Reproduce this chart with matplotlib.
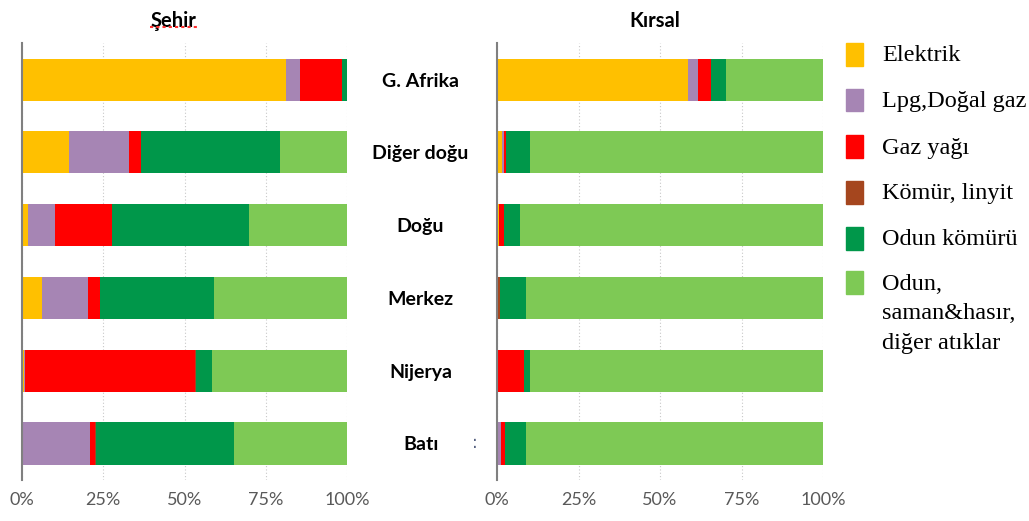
import matplotlib.pyplot as plt
import numpy as np
from matplotlib.patches import Rectangle
from matplotlib.lines import Line2D

regions = ["G. Afrika", "Diğer doğu", "Doğu", "Merkez", "Nijerya", "Batı"]
fuels = ["Elektrik", "Lpg,Doğal gaz", "Gaz yağı", "Kömür, linyit",
         "Odun kömürü", "Odun,\nsaman&hasır,\ndiğer atıklar"]
colors = ["#FFC000", "#A685B4", "#FF0000", "#A5461E", "#00974A", "#7EC955"]

# Şehir (urban) shares, %
elektrik_s = [81.2, 14.5, 1.8, 6.2, 0.5, 0.4]
lpg_s = [4.3, 18.4, 8.4, 14.1, 0.5, 20.6]
gaz_s = [13.0, 3.7, 17.5, 3.7, 52.3, 1.3]
komur_s = [0.0, 0.0, 0.0, 0.0, 0.3, 0.4]
odun_komuru_s = [1.5, 42.8, 42.1, 35.1, 4.7, 42.4]
odun_s = [0.0, 20.6, 30.2, 40.9, 41.7, 34.9]

# Kırsal (rural) shares, %
elektrik_k = [58.7, 1.5, 0.5, 0.3, 0.0, 0.0]
lpg_k = [2.8, 0.5, 0.0, 0.0, 0.2, 1.3]
gaz_k = [4.0, 0.8, 1.5, 0.0, 8.0, 1.3]
komur_k = [0.0, 0.0, 0.0, 0.6, 0.0, 0.0]
odun_komuru_k = [4.6, 7.4, 4.9, 8.1, 1.8, 6.2]
odun_k = [29.9, 89.8, 93.1, 91.0, 90.0, 91.2]

sehir = [elektrik_s, lpg_s, gaz_s, komur_s, odun_komuru_s, odun_s]
kirsal = [elektrik_k, lpg_k, gaz_k, komur_k, odun_komuru_k, odun_k]

fig = plt.figure(figsize=(10.29, 5.21), dpi=100)
ax1 = fig.add_axes([0.0214, 0.079, 0.316, 0.838])
ax2 = fig.add_axes([0.483, 0.079, 0.317, 0.838])

y = np.arange(len(regions))


def draw(ax, data, title, tx):
    left = np.zeros(len(regions))
    for vals, c in zip(data, colors):
        ax.barh(y, vals, left=left, height=0.58, color=c, zorder=2)
        left += np.array(vals)
    ax.set_xlim(0, 100)
    ax.set_ylim(len(regions) - 0.5, -0.5)
    ax.set_xticks([0, 25, 50, 75, 100])
    ax.set_xticklabels(["0%", "25%", "50%", "75%", "100%"], family="Lato",
                       fontsize=13, color="#595959")
    ax.tick_params(axis="x", length=0, pad=9)
    ax.grid(axis="x", color="#C8C8C8", linestyle=(0, (1, 2)), linewidth=0.8, zorder=0)
    for s in ["top", "right", "bottom"]:
        ax.spines[s].set_visible(False)
    ax.spines["left"].set_color("#808080")
    ax.spines["left"].set_linewidth(1.5)
    ax.set_title(title, family="Lato", fontweight="bold", fontsize=14.5, pad=12, x=tx)


draw(ax1, sehir, "Şehir", 0.465)
draw(ax2, kirsal, "Kırsal", 0.485)

# spell-check squiggle under the left title
fig.add_artist(Line2D([0.146, 0.192], [0.948, 0.948], color="#FF3030",
                      linestyle=(0, (1.5, 1.5)), linewidth=1.5))

ax1.set_yticks([])
ax2.set_yticks(y)
ax2.set_yticklabels(regions, family="Lato", fontweight="bold", fontsize=14, ha="center")
ax2.tick_params(axis="y", length=0, pad=55)
ax2.text(-6.8, 5, ":", ha="center", va="center", fontsize=12, color="#556080")

# legend
leg_y = [0.896, 0.808, 0.718, 0.630, 0.543, 0.457]
for lab, c, ly in zip(fuels, colors, leg_y):
    fig.patches.append(Rectangle((0.8225, ly - 0.022), 0.0165, 0.044, color=c,
                                 transform=fig.transFigure, figure=fig))
    fig.text(0.857, ly + 0.018, lab, family="Liberation Serif", fontsize=17.5,
             va="top", ha="left", linespacing=1.55)

fig.savefig("out.png", dpi=100)
